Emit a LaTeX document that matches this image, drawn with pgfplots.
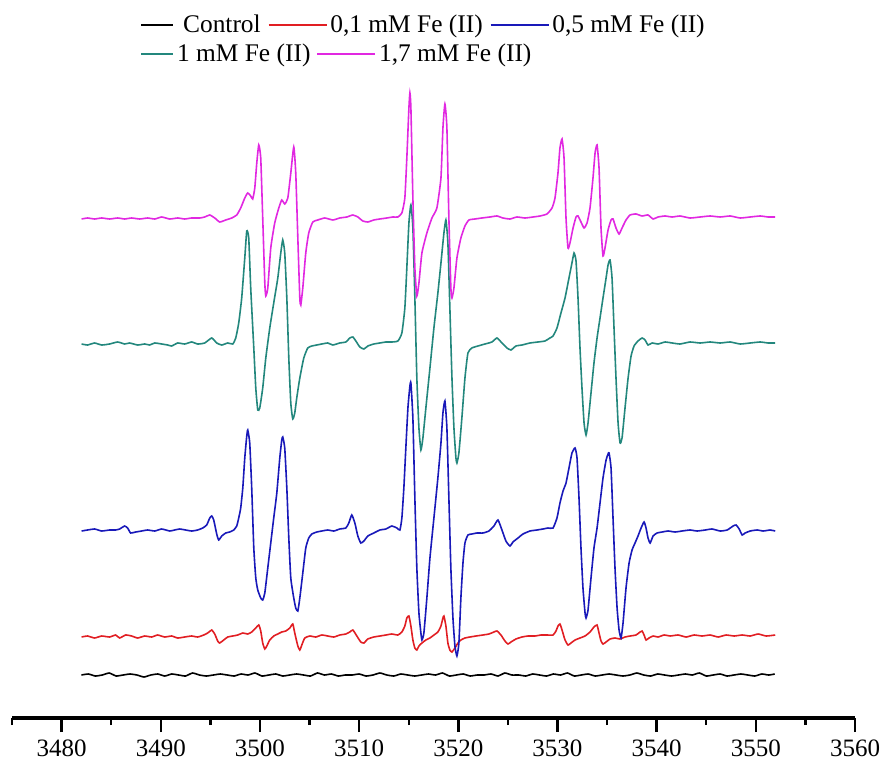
\documentclass[border=0pt]{standalone}
\usepackage{fontspec}
\setmainfont{Liberation Serif}
\usepackage{pgfplots}
\pgfplotsset{compat=1.18}
\definecolor{cred}{RGB}{225,30,35}
\definecolor{cblue}{RGB}{25,25,185}
\definecolor{cteal}{RGB}{35,135,125}
\definecolor{cmag}{RGB}{225,40,225}
\pgfplotsset{
  longline/.style={legend image code/.code={\draw[##1] (0pt,0pt) -- (29pt,0pt);}},
  shortline/.style={legend image code/.code={\draw[##1] (0pt,0pt) -- (16pt,0pt);}},
}
\begin{document}
\begin{tikzpicture}
\begin{axis}[
  name=main,
  scale only axis,
  width=421.5pt, height=320pt,
  xmin=3475, xmax=3560, ymin=0, ymax=640,
  axis x line=bottom, axis y line=none,
  axis line style={-, line width=1.6pt, black},
  x axis line style={-, line width=1.6pt, black},
  every outer x axis line/.append style={-, line width=1.6pt, black},
  every inner x axis line/.append style={-, line width=1.6pt, black},
  ytick=\empty,
  xtick={3480,3490,...,3560},
  xticklabels={3480,3490,3500,3510,3520,3530,3540,3550,3560},
  minor xtick={3475,3485,...,3555},
  xtick align=outside,
  tickwidth=7pt, subtickwidth=3.5pt,
  xtick style={black, line width=1.2pt},
  xticklabel shift=0.5pt,
  xticklabel style={font=\fontsize{12.5}{14}\selectfont},
  clip=false,
  longline,
  legend columns=-1,
  legend style={at={(0.152,1.104)}, anchor=north west, draw=none, fill=none,
    inner sep=0pt, font=\fontsize{12.7}{14}\selectfont,
    nodes={inner sep=1.5pt},
    /tikz/every even column/.append style={column sep=2pt}},
  every axis plot/.append style={line width=0.8pt, smooth, tension=0.3},
]
\addplot[black, shortline] coordinates {
(3482.0,43) (3482.7,44) (3483.4,42) (3484.1,43) (3484.8,45) (3485.5,42) (3486.2,43) (3486.9,44) (3487.6,43) (3488.3,41)
(3489.0,43) (3489.7,44) (3490.4,42) (3491.1,44) (3491.8,43) (3492.5,42) (3493.2,45) (3493.9,43) (3494.6,42) (3495.3,43)
(3496.0,44) (3496.7,43) (3497.4,42) (3498.1,44) (3498.8,43) (3499.5,45) (3500.2,42) (3500.9,43) (3501.6,44) (3502.3,42)
(3503.0,43) (3503.7,44) (3504.4,43) (3505.1,42) (3505.8,45) (3506.5,43) (3507.2,44) (3507.9,42) (3508.6,43) (3509.3,43)
(3510.0,44) (3510.7,42) (3511.4,43) (3512.1,45) (3512.8,43) (3513.5,42) (3514.2,44) (3514.9,43) (3515.6,42) (3516.3,43)
(3517.0,44) (3517.7,43) (3518.4,45) (3519.1,42) (3519.8,43) (3520.5,44) (3521.2,42) (3521.9,43) (3522.6,43) (3523.3,44)
(3524.0,42) (3524.7,45) (3525.4,43) (3526.1,43) (3526.8,42) (3527.5,44) (3528.2,43) (3528.9,42) (3529.6,44) (3530.3,43)
(3531.0,45) (3531.7,42) (3532.4,43) (3533.1,44) (3533.8,42) (3534.5,43) (3535.2,44) (3535.9,43) (3536.6,42) (3537.3,43)
(3538.0,45) (3538.7,43) (3539.4,42) (3540.1,44) (3540.8,43) (3541.5,42) (3542.2,43) (3542.9,44) (3543.6,43) (3544.3,45)
(3545.0,42) (3545.7,43) (3546.4,44) (3547.1,42) (3547.8,43) (3548.5,44) (3549.2,43) (3549.9,42) (3550.6,44) (3551.3,43)
(3551.9,44)
};
\addlegendentry{\hspace{3pt}Control}
\addplot[cred] coordinates {
(3482.02,81) (3482.62,82) (3483.33,80) (3484.04,82) (3484.84,81) (3485.45,83) (3485.85,80) (3486.46,83) (3487.06,82)
(3487.67,80) (3488.38,82) (3489.08,81) (3489.69,83) (3490.39,81) (3491.10,82) (3491.71,80) (3492.41,81) (3493.12,82)
(3493.72,81) (3494.33,83) (3494.73,85) (3495.14,88) (3495.44,84) (3495.74,77) (3495.94,75) (3496.35,78) (3496.75,81)
(3497.26,82) (3497.76,83) (3498.27,85) (3498.77,84) (3499.17,86) (3499.58,90) (3499.88,93) (3500.08,87) (3500.28,75)
(3500.49,69) (3500.69,72) (3500.99,78) (3501.39,82) (3501.80,84) (3502.20,86) (3502.60,87) (3503.01,90) (3503.31,94)
(3503.51,85) (3503.82,72) (3504.02,68) (3504.22,73) (3504.52,80) (3505.03,82) (3505.63,81) (3506.24,83) (3506.84,82)
(3507.45,81) (3508.05,83) (3508.66,84) (3509.06,86) (3509.37,88) (3509.77,82) (3510.17,76) (3510.48,75) (3510.88,79)
(3511.48,81) (3512.09,82) (3512.70,83) (3513.30,84) (3513.91,83) (3514.31,86) (3514.61,92) (3514.81,100) (3515.02,102)
(3515.22,92) (3515.42,78) (3515.62,70) (3515.82,68) (3516.03,72) (3516.33,75) (3516.73,78) (3517.14,80) (3517.54,83)
(3517.94,86) (3518.25,92) (3518.45,100) (3518.55,102) (3518.75,92) (3518.95,75) (3519.15,68) (3519.36,66) (3519.66,70)
(3519.96,75) (3520.26,78) (3520.67,80) (3521.17,81) (3521.78,82) (3522.48,83) (3523.09,84) (3523.59,86) (3523.90,87)
(3524.30,83) (3524.70,77) (3525.01,74) (3525.31,76) (3525.81,79) (3526.42,81) (3527.02,82) (3527.73,82) (3528.34,83)
(3528.94,83) (3529.55,83) (3529.85,87) (3530.05,92) (3530.25,94) (3530.46,88) (3530.76,78) (3531.06,73) (3531.36,75)
(3531.77,78) (3532.27,80) (3532.78,82) (3533.28,86) (3533.68,91) (3533.99,93) (3534.19,85) (3534.39,77) (3534.59,74)
(3534.90,76) (3535.30,79) (3535.80,80) (3536.31,79) (3536.81,81) (3537.32,82) (3537.92,83) (3538.33,86) (3538.53,87)
(3538.73,83) (3538.93,78) (3539.23,80) (3539.64,82) (3540.14,81) (3540.75,83) (3541.36,82) (3542.16,83) (3542.97,81)
(3543.78,83) (3544.58,82) (3545.39,83) (3546.20,81) (3547.00,83) (3547.81,82) (3548.62,83) (3549.43,82) (3550.23,84)
(3551.04,82) (3551.95,83)
};
\addlegendentry{0,1 mM Fe (II)}
\addplot[cblue] coordinates {
(3482.02,187) (3482.62,188) (3483.33,189) (3484.04,187) (3484.84,188) (3485.45,188) (3485.85,189) (3486.36,192)
(3486.66,190) (3486.96,185) (3487.47,186) (3488.07,187) (3488.68,188) (3489.39,187) (3490.09,189) (3490.90,187)
(3491.40,188) (3491.91,189) (3492.51,188) (3493.12,187) (3493.72,188) (3494.23,190) (3494.63,193) (3494.94,200)
(3495.14,202) (3495.34,198) (3495.64,184) (3495.84,178) (3496.15,182) (3496.55,185) (3496.95,186) (3497.36,188)
(3497.66,192) (3497.86,200) (3498.06,210) (3498.27,230) (3498.47,260) (3498.67,282) (3498.77,288) (3498.97,275)
(3499.17,230) (3499.38,170) (3499.58,140) (3499.78,128) (3500.08,120) (3500.28,118) (3500.49,125) (3500.79,150)
(3501.09,175) (3501.39,200) (3501.70,225) (3502.00,260) (3502.20,278) (3502.30,281) (3502.50,270) (3502.71,230)
(3502.91,180) (3503.11,140) (3503.41,120) (3503.61,110) (3503.82,107) (3504.02,120) (3504.32,145) (3504.62,170)
(3504.92,180) (3505.23,184) (3505.73,186) (3506.24,187) (3506.84,188) (3507.45,187) (3508.05,189) (3508.66,190)
(3508.96,195) (3509.26,203) (3509.57,195) (3509.87,182) (3510.17,175) (3510.48,177) (3510.88,182) (3511.48,185)
(3512.09,188) (3512.70,189) (3513.30,192) (3513.81,190) (3514.11,188) (3514.31,200) (3514.51,230) (3514.71,270)
(3514.92,310) (3515.12,332) (3515.22,335) (3515.42,300) (3515.62,220) (3515.82,150) (3516.03,105) (3516.23,85)
(3516.33,78) (3516.53,85) (3516.83,120) (3517.14,160) (3517.54,200) (3517.94,240) (3518.25,275) (3518.45,305)
(3518.65,317) (3518.85,290) (3519.05,220) (3519.25,150) (3519.46,100) (3519.66,72) (3519.86,62) (3520.06,75)
(3520.26,120) (3520.47,155) (3520.67,175) (3520.97,183) (3521.37,184) (3521.88,185) (3522.48,185) (3523.09,187)
(3523.59,192) (3524.00,198) (3524.40,188) (3524.80,177) (3525.21,172) (3525.51,176) (3526.02,180) (3526.52,184)
(3527.23,187) (3527.93,188) (3528.54,189) (3529.04,190) (3529.55,190) (3529.95,200) (3530.25,215) (3530.56,227)
(3530.86,235) (3531.16,250) (3531.46,265) (3531.77,270) (3531.97,260) (3532.17,220) (3532.37,170) (3532.57,130)
(3532.78,105) (3532.88,100) (3533.08,108) (3533.38,140) (3533.68,170) (3533.99,190) (3534.29,215) (3534.59,240)
(3534.90,258) (3535.10,264) (3535.20,265) (3535.40,250) (3535.60,200) (3535.80,150) (3536.01,110) (3536.21,88)
(3536.41,80) (3536.61,95) (3536.91,130) (3537.22,155) (3537.52,168) (3537.82,175) (3538.12,182) (3538.43,190)
(3538.73,196) (3538.93,190) (3539.13,180) (3539.34,175) (3539.64,182) (3540.04,185) (3540.55,186) (3541.15,187)
(3541.86,186) (3542.56,187) (3543.37,188) (3544.08,187) (3544.89,188) (3545.59,189) (3546.40,187) (3547.11,188)
(3547.71,192) (3548.01,193) (3548.32,189) (3548.62,183) (3548.92,185) (3549.43,187) (3550.13,188) (3550.74,187)
(3551.44,188) (3551.95,187)
};
\addlegendentry{0,5 mM Fe (II)}
\addplot[cteal] coordinates {
(3482.02,374) (3482.62,373) (3483.33,375) (3484.04,373) (3484.84,374) (3485.65,376) (3486.36,374) (3486.86,375)
(3487.67,373) (3488.38,374) (3488.88,373) (3489.39,375) (3490.09,374) (3490.70,373) (3491.10,372) (3491.71,375)
(3492.41,374) (3493.12,376) (3493.72,374) (3494.43,375) (3495.14,380) (3495.64,375) (3496.15,373) (3496.75,375)
(3497.26,374) (3497.56,380) (3497.86,395) (3498.16,420) (3498.47,460) (3498.67,487) (3498.87,480) (3499.07,430)
(3499.38,370) (3499.58,330) (3499.78,308) (3499.98,310) (3500.28,330) (3500.59,360) (3500.99,390) (3501.39,415)
(3501.80,440) (3502.10,465) (3502.30,478) (3502.50,465) (3502.71,420) (3502.91,360) (3503.11,315) (3503.31,299)
(3503.51,305) (3503.71,320) (3504.02,340) (3504.42,360) (3504.82,370) (3505.23,372) (3505.73,373) (3506.24,374)
(3506.84,375) (3507.35,373) (3508.05,375) (3508.66,376) (3509.06,380) (3509.37,381) (3509.67,377) (3510.07,371)
(3510.48,369) (3510.88,372) (3511.48,374) (3512.09,375) (3512.70,376) (3513.30,376) (3513.91,377) (3514.31,385)
(3514.61,410) (3514.81,450) (3515.02,495) (3515.22,513) (3515.42,490) (3515.62,420) (3515.82,340) (3516.03,290)
(3516.23,268) (3516.43,280) (3516.73,310) (3517.14,350) (3517.54,390) (3517.94,425) (3518.25,455) (3518.55,485)
(3518.75,498) (3518.95,475) (3519.15,410) (3519.36,340) (3519.56,290) (3519.76,260) (3519.86,255) (3520.06,265)
(3520.36,300) (3520.67,340) (3520.97,365) (3521.37,370) (3521.98,372) (3522.69,374) (3523.39,376) (3523.90,380)
(3524.40,375) (3524.91,370) (3525.31,368) (3525.81,372) (3526.42,373) (3527.23,375) (3528.03,376) (3528.74,377)
(3529.24,380) (3529.55,382) (3529.95,390) (3530.35,405) (3530.76,420) (3531.16,440) (3531.46,455) (3531.67,465)
(3531.87,457) (3532.07,420) (3532.27,370) (3532.47,330) (3532.68,295) (3532.88,283) (3533.08,295) (3533.38,325)
(3533.68,355) (3533.99,380) (3534.29,400) (3534.59,420) (3534.90,440) (3535.10,453) (3535.30,458) (3535.50,440)
(3535.70,390) (3535.90,340) (3536.11,295) (3536.31,275) (3536.51,280) (3536.81,310) (3537.12,340) (3537.42,362)
(3537.72,372) (3538.12,377) (3538.53,380) (3538.83,378) (3539.13,373) (3539.54,375) (3540.14,374) (3540.85,376)
(3541.56,375) (3542.36,374) (3543.37,376) (3544.38,375) (3545.39,376) (3546.40,375) (3547.41,376) (3548.42,374)
(3549.43,375) (3550.44,376) (3551.24,375) (3551.95,375)
};
\addplot[cmag] coordinates {
(3482.02,499) (3482.62,500) (3483.33,499) (3484.04,500) (3484.84,499) (3485.65,500) (3486.36,499) (3487.06,500)
(3487.87,499) (3488.68,500) (3489.39,499) (3490.09,501) (3490.90,499) (3491.71,500) (3492.41,499) (3493.12,500)
(3493.93,500) (3494.43,501) (3494.94,503) (3495.44,500) (3495.94,496) (3496.55,498) (3497.16,500) (3497.66,503)
(3498.06,510) (3498.47,520) (3498.77,525) (3499.07,522) (3499.27,519) (3499.48,530) (3499.68,555) (3499.88,573)
(3500.08,560) (3500.28,500) (3500.49,435) (3500.59,422) (3500.79,430) (3501.09,470) (3501.49,495) (3501.90,510)
(3502.20,518) (3502.50,514) (3502.81,520) (3503.11,545) (3503.41,571) (3503.61,545) (3503.82,480) (3504.02,420)
(3504.12,413) (3504.32,430) (3504.62,465) (3504.92,485) (3505.33,496) (3505.83,498) (3506.54,500) (3507.35,498)
(3508.05,500) (3508.76,501) (3509.37,503) (3509.87,501) (3510.37,497) (3510.88,496) (3511.48,498) (3512.09,499)
(3512.80,500) (3513.40,501) (3513.91,501) (3514.31,505) (3514.61,520) (3514.81,560) (3515.02,610) (3515.12,625)
(3515.22,610) (3515.42,520) (3515.62,450) (3515.82,422) (3516.03,435) (3516.33,465) (3516.83,485) (3517.34,500)
(3517.84,510) (3518.25,540) (3518.45,590) (3518.65,614) (3518.85,590) (3519.05,500) (3519.25,430) (3519.36,420)
(3519.56,430) (3519.86,460) (3520.26,480) (3520.67,492) (3521.07,498) (3521.68,499) (3522.38,500) (3523.19,501)
(3523.90,502) (3524.50,500) (3525.21,499) (3525.91,501) (3526.72,500) (3527.53,501) (3528.24,502) (3528.94,504)
(3529.45,510) (3529.75,520) (3530.05,545) (3530.25,570) (3530.46,579) (3530.66,560) (3530.86,500) (3531.06,470)
(3531.26,475) (3531.57,490) (3531.87,501) (3532.07,502) (3532.37,496) (3532.68,490) (3532.98,495) (3533.28,510)
(3533.58,540) (3533.79,565) (3533.99,573) (3534.19,550) (3534.39,490) (3534.59,462) (3534.79,470) (3535.10,488)
(3535.40,498) (3535.60,499) (3535.90,490) (3536.21,484) (3536.51,490) (3536.91,498) (3537.32,503) (3537.92,504)
(3538.53,502) (3539.13,503) (3539.64,499) (3540.14,501) (3540.85,502) (3541.56,501) (3542.36,502) (3543.37,500)
(3544.38,501) (3545.39,502) (3546.40,501) (3547.41,502) (3548.42,500) (3549.43,501) (3550.44,502) (3551.24,501)
(3551.95,501)
};
\end{axis}
\begin{axis}[
  scale only axis,
  width=421.5pt, height=320pt,
  xmin=3475, xmax=3560, ymin=0, ymax=640,
  hide axis,
  longline,
  legend columns=-1,
  legend style={at={(0.152,1.059)}, anchor=north west, draw=none, fill=none,
    inner sep=0pt, font=\fontsize{12.7}{14}\selectfont,
    nodes={inner sep=1.5pt},
    /tikz/every even column/.append style={column sep=1.5pt}},
]
\addlegendimage{cteal, line width=0.8pt, shortline}
\addlegendentry{1 mM Fe (II)}
\addlegendimage{cmag, line width=0.8pt}
\addlegendentry{1,7 mM Fe (II)}
\end{axis}
\pgfresetboundingbox
\path ([xshift=-6pt,yshift=-23.5pt]main.south west) rectangle ([xshift=15pt,yshift=39pt]main.north east);
\end{tikzpicture}
\end{document}
